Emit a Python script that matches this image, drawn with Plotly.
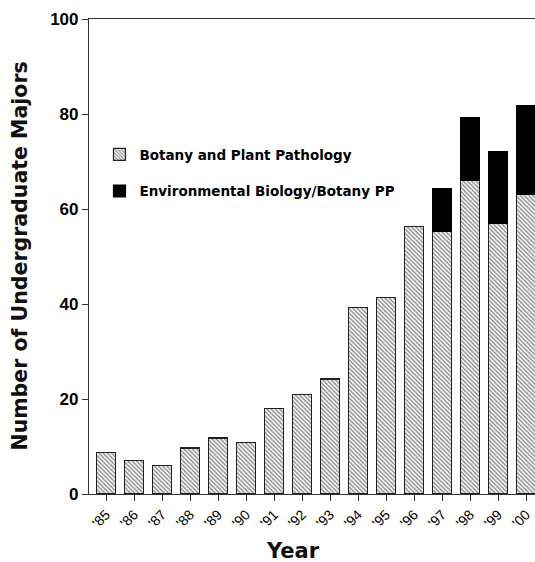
import plotly.graph_objects as go

years = ["'85", "'86", "'87", "'88", "'89", "'90", "'91", "'92", "'93", "'94",
         "'95", "'96", "'97", "'98", "'99", "'00"]
botany = [8.7, 7.0, 6.0, 9.7, 11.8, 10.8, 18.0, 21.0, 24.2, 39.2,
          41.4, 56.3, 55.2, 66.0, 57.0, 63.0]
env_bio = [None, None, None, None, None, None, None, None, None, None,
           None, None, 9.0, 13.3, 15.1, 18.8]

y_ticks = [0, 20, 40, 60, 80, 100]

fig = go.Figure()
fig.add_trace(go.Bar(
    x=years, y=botany, name="Botany and Plant Pathology",
    legendgroup="a",
    marker=dict(color="white", line=dict(color="#222", width=1.2),
                pattern=dict(shape="\\", fgcolor="#222", bgcolor="white",
                             size=3, solidity=0.5)),
    width=0.7,
))
fig.add_trace(go.Bar(
    x=years, y=env_bio, name="Environmental Biology/Botany PP",
    legendgroup="b",
    marker=dict(color="black", line=dict(color="black", width=1.2)),
    width=0.7,
))

fig.update_layout(
    width=535, height=562,
    barmode="stack",
    plot_bgcolor="white", paper_bgcolor="white",
    margin=dict(l=89, r=0, t=19, b=68),
    showlegend=True,
    legend=dict(x=0.0235, y=0.747, xanchor="left", yanchor="top",
                traceorder="grouped", tracegroupgap=16,
                font=dict(family="DejaVu Sans", size=13.5, color="black",
                          weight="bold"),
                bgcolor="rgba(0,0,0,0)", itemwidth=30),
    font=dict(family="Liberation Sans", color="black"),
)
fig.update_xaxes(
    type="category", range=[-0.607, 15.32],
    showline=True, linecolor="#333", linewidth=1.2, mirror=True,
    ticks="outside", ticklen=6, tickcolor="#333",
    tickangle=-45, tickfont=dict(family="Liberation Sans", size=14),
    showgrid=False,
)
fig.update_yaxes(
    range=[0, 100], tickvals=y_ticks,
    showline=True, linecolor="#333", linewidth=1.2,
    ticks="outside", ticklen=6, tickcolor="#333",
    tickfont=dict(family="Liberation Sans", size=17, weight="bold"),
    showgrid=False, zeroline=False,
)
fig.add_annotation(
    text="Number of Undergraduate Majors", textangle=-90,
    xref="paper", yref="paper", x=(19 - 89) / 446, y=0.5,
    showarrow=False, xanchor="center", yanchor="middle",
    font=dict(family="DejaVu Sans", size=20.5, weight="bold", color="#111"),
)
fig.add_annotation(
    text="Year",
    xref="paper", yref="paper", x=(293 - 89) / 446, y=(494 - 551) / 475,
    showarrow=False, xanchor="center", yanchor="middle",
    font=dict(family="DejaVu Sans", size=21, weight="bold", color="#111"),
)

fig.write_html("out.html", config={"displayModeBar": False},
               post_script="document.body.style.margin='0';")
